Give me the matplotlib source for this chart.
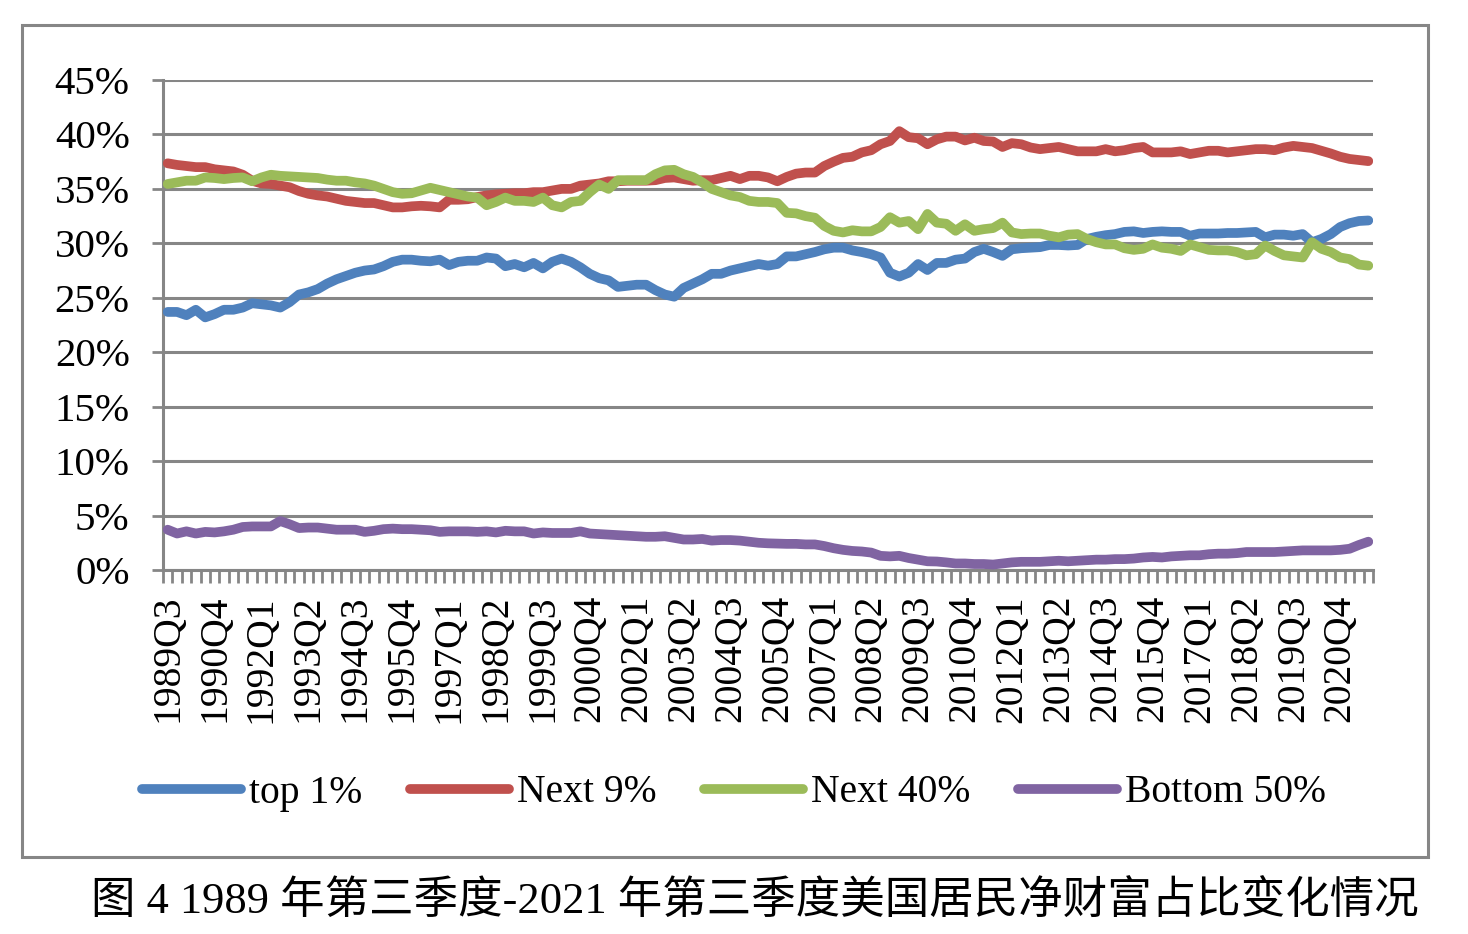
import numpy as np
import matplotlib
matplotlib.use("Agg")
import matplotlib.pyplot as plt
from matplotlib.patches import Rectangle

# quarterly shares (%) 1989Q3 .. 2021Q3
top1 = [23.7, 23.7, 23.4, 23.9, 23.2, 23.5, 23.9, 23.9, 24.1, 24.5, 24.4, 24.3, 24.1, 24.6, 25.3, 25.5, 25.8, 26.3, 26.7, 27.0, 27.3, 27.5,
        27.6, 27.9, 28.3, 28.5, 28.5, 28.4, 28.35, 28.5, 28.0, 28.3, 28.4, 28.4, 28.7, 28.6, 27.9, 28.1, 27.8, 28.2, 27.7, 28.3, 28.6,
        28.3, 27.8, 27.2, 26.8, 26.6, 26.0, 26.1, 26.2, 26.2, 25.7, 25.3, 25.1, 25.9, 26.3, 26.7, 27.2, 27.2, 27.5, 27.7, 27.9, 28.1,
        27.95, 28.1, 28.8, 28.8, 29.0, 29.2, 29.45, 29.6, 29.6, 29.35, 29.2, 29.0, 28.7, 27.3, 26.95, 27.3, 28.1, 27.55, 28.2, 28.2, 28.5,
        28.6, 29.2, 29.5, 29.2, 28.85, 29.45, 29.55, 29.6, 29.65, 29.85, 29.85, 29.8, 29.85, 30.4, 30.6, 30.75, 30.85, 31.05, 31.1, 30.95, 31.05,
        31.1, 31.05, 31.05, 30.7, 30.9, 30.9, 30.9, 30.95, 30.95, 31.0, 31.05, 30.55, 30.8, 30.8, 30.7, 30.85, 30.1, 30.4, 30.85, 31.5,
        31.85, 32.05, 32.1]
next9 = [37.35, 37.2, 37.1, 37.0, 37.0, 36.8, 36.7, 36.6, 36.3, 35.75, 35.5, 35.45, 35.3, 35.15, 34.8, 34.55, 34.4, 34.3, 34.1, 33.9, 33.8, 33.7,
         33.7, 33.5, 33.3, 33.3, 33.4, 33.45, 33.4, 33.3, 34.0, 34.0, 34.05, 34.25, 34.4, 34.5, 34.55, 34.6, 34.6, 34.7, 34.7, 34.85, 35.0,
         35.0, 35.3, 35.4, 35.5, 35.7, 35.7, 35.75, 35.75, 35.75, 35.8, 36.0, 36.05, 35.9, 35.75, 35.8, 35.8, 36.0, 36.2, 35.9, 36.2, 36.2,
         36.05, 35.7, 36.1, 36.4, 36.5, 36.5, 37.1, 37.5, 37.85, 37.95, 38.35, 38.55, 39.1, 39.4, 40.3, 39.75, 39.65, 39.1, 39.55, 39.8, 39.8,
         39.45, 39.7, 39.4, 39.35, 38.85, 39.2, 39.1, 38.8, 38.65, 38.75, 38.85, 38.65, 38.45, 38.45, 38.45, 38.65, 38.45, 38.55, 38.75, 38.85,
         38.35, 38.35, 38.35, 38.45, 38.2, 38.35, 38.5, 38.5, 38.35, 38.45, 38.55, 38.65, 38.65, 38.55, 38.8, 38.95, 38.85, 38.75, 38.5,
         38.25, 37.95, 37.75, 37.65, 37.55]
next40 = [35.45, 35.6, 35.75, 35.75, 36.05, 36.0, 35.9, 36.0, 36.05, 35.7, 36.05, 36.3, 36.2, 36.15, 36.1, 36.05, 36.0, 35.85, 35.75, 35.75, 35.6, 35.5,
          35.3, 35.0, 34.7, 34.55, 34.6, 34.85, 35.1, 34.9, 34.7, 34.5, 34.3, 34.2, 33.5, 33.8, 34.2, 33.9, 33.9, 33.8, 34.2, 33.5, 33.3,
          33.8, 33.9, 34.7, 35.4, 35.0, 35.8, 35.8, 35.8, 35.8, 36.35, 36.7, 36.75, 36.35, 36.1, 35.6, 35.0, 34.7, 34.4, 34.25, 33.9, 33.8,
          33.8, 33.7, 32.8, 32.75, 32.5, 32.35, 31.6, 31.15, 31.0, 31.2, 31.1, 31.1, 31.5, 32.4, 31.9, 32.05, 31.3, 32.7, 31.9, 31.8, 31.15,
          31.75, 31.15, 31.3, 31.4, 31.9, 31.0, 30.85, 30.9, 30.9, 30.7, 30.55, 30.8, 30.85, 30.4, 30.1, 29.9, 29.9, 29.55, 29.4, 29.5, 29.9,
          29.6, 29.5, 29.3, 29.9, 29.65, 29.4, 29.35, 29.35, 29.2, 28.9, 29.0, 29.8, 29.3, 28.9, 28.8, 28.7, 30.1, 29.5, 29.2, 28.7,
          28.55, 28.05, 27.95]
bottom50 = [3.7, 3.35, 3.55, 3.35, 3.5, 3.45, 3.55, 3.7, 3.95, 4.0, 4.0, 4.0, 4.5, 4.2, 3.85, 3.9, 3.9, 3.8, 3.7, 3.7, 3.7, 3.5,
            3.6, 3.75, 3.8, 3.75, 3.75, 3.7, 3.65, 3.5, 3.55, 3.55, 3.55, 3.5, 3.55, 3.45, 3.6, 3.55, 3.55, 3.35, 3.45, 3.4, 3.4,
            3.4, 3.55, 3.35, 3.3, 3.25, 3.2, 3.15, 3.1, 3.05, 3.05, 3.1, 2.95, 2.8, 2.8, 2.85, 2.7, 2.75, 2.75, 2.7, 2.6, 2.5,
            2.45, 2.42, 2.4, 2.4, 2.35, 2.35, 2.2, 2.0, 1.85, 1.75, 1.7, 1.6, 1.3, 1.25, 1.3, 1.1, 0.95, 0.8, 0.78, 0.7, 0.6,
            0.6, 0.55, 0.55, 0.5, 0.6, 0.7, 0.75, 0.75, 0.75, 0.8, 0.85, 0.8, 0.85, 0.9, 0.95, 0.95, 1.0, 1.0, 1.05, 1.15, 1.2,
            1.15, 1.25, 1.3, 1.35, 1.35, 1.45, 1.5, 1.5, 1.55, 1.65, 1.65, 1.65, 1.65, 1.7, 1.75, 1.8, 1.8, 1.8, 1.8, 1.85,
            1.95, 2.3, 2.6]

series_names = ["top 1%", "Next 9%", "Next 40%", "Bottom 50%"]
colors = ["#4F81BD", "#C0504D", "#9BBB59", "#8064A2"]

quarters = []
y, q = 1989, 3
for k in range(len(top1)):
    quarters.append("%dQ%d" % (y, q))
    q += 1
    if q > 4:
        q = 1
        y += 1

serif = "Liberation Serif"
grey = "#868686"

fig = plt.figure(figsize=(14.68, 9.34), dpi=100)
ax = fig.add_axes([163 / 1468, 1 - 570 / 934, 1210 / 1468, 490 / 934])

x = np.arange(len(top1))
for vals, name, c in zip([top1, next9, next40, bottom50], series_names, colors):
    ax.plot(x, vals, color=c, lw=7, solid_capstyle="round", solid_joinstyle="round", label=name, zorder=3)

ax.set_xlim(-0.5, len(top1) - 0.5)
ax.set_ylim(0, 45)
ax.set_yticks(np.arange(0, 46, 5))
ax.set_yticklabels(["%d%%" % v for v in range(0, 46, 5)], fontsize=29.5, family=serif)
ax.grid(axis="y", color=grey, lw=2.2, zorder=1)
ax.tick_params(axis="y", length=8, width=2, color=grey, pad=16)

ax.set_xticks(x[::5])
ax.set_xticklabels(quarters[::5], rotation=90, fontsize=28.5, family=serif)
ax.set_xticks(np.arange(-0.5, len(top1), 1), minor=True)
ax.tick_params(axis="x", which="major", length=0, pad=18)
ax.tick_params(axis="x", which="minor", length=9, width=2, color=grey)

for s in ["top", "right"]:
    ax.spines[s].set_visible(False)
for s in ["left", "bottom"]:
    ax.spines[s].set_color(grey)
    ax.spines[s].set_linewidth(2.2)

leg = fig.legend(loc="center", bbox_to_anchor=(0.5, 1 - 793 / 934), ncol=4, frameon=False,
                 prop={"family": serif, "size": 28.5}, handlelength=2.5, handletextpad=0.2, columnspacing=1.2)

fig.patches.append(Rectangle((22 / 1468, 1 - 857 / 934), 1406 / 1468, 832 / 934, transform=fig.transFigure,
                             fill=False, ec=grey, lw=2.2))

fig.text(0.514, 1 - 902 / 934, "图 4 1989 年第三季度-2021 年第三季度美国居民净财富占比变化情况",
         ha="center", va="center", fontsize=32, family=[serif, "Noto Sans CJK SC"])

fig.savefig("out.png", dpi=100)
